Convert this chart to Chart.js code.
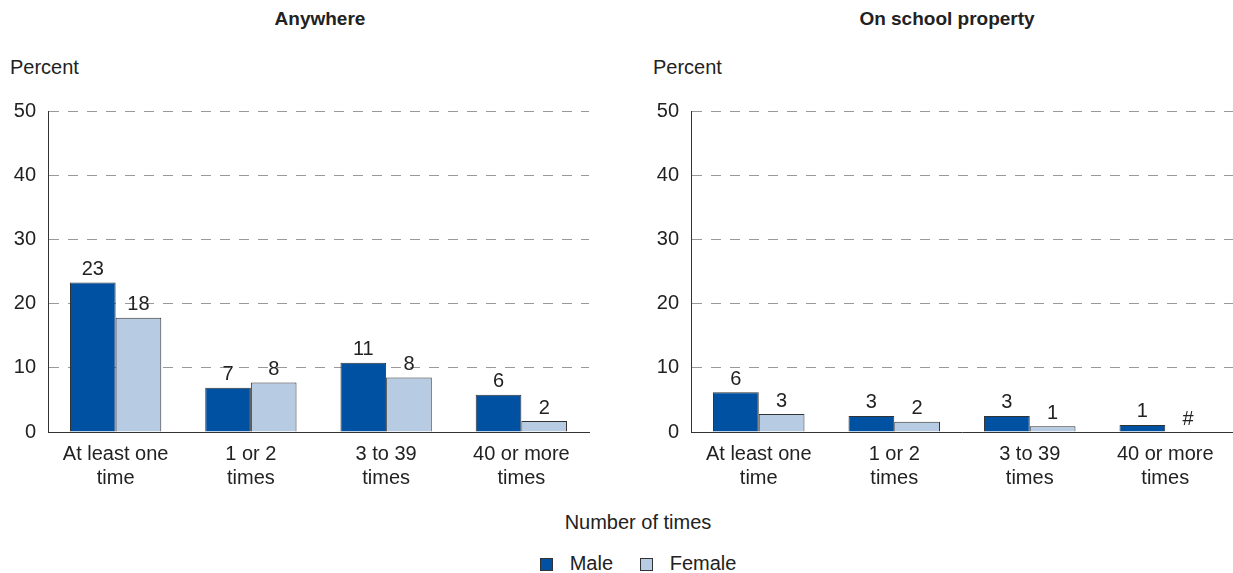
<!DOCTYPE html>
<html>
<head>
<meta charset="utf-8">
<script src="https://cdn.jsdelivr.net/npm/chart.js@4.4.1/dist/chart.umd.min.js"></script>
<style>
  body { margin: 0; background: #fff; font-family: "Liberation Sans", Arial, Helvetica, sans-serif; color: #222; }
  #page { position: relative; width: 1233px; height: 573px; overflow: hidden; }
  .txt { position: absolute; white-space: nowrap; font-size: 20px; line-height: 24px; }
  .title { font-weight: bold; font-size: 19px; transform: translateX(-50%); }
  .box { display: inline-block; width: 11px; height: 11px; border: 1px solid #333; vertical-align: -1px; }
  #leftWrap { position: absolute; left: 0; top: 0; width: 616px; height: 500px; }
  #rightWrap { position: absolute; left: 616px; top: 0; width: 617px; height: 500px; }
</style>
</head>
<body>
<div id="page">
  <div class="txt title" style="left:320px; top:7px;">Anywhere</div>
  <div class="txt title" style="left:947px; top:7px;">On school property</div>
  <div class="txt" style="left:10px; top:55px;">Percent</div>
  <div class="txt" style="left:653px; top:55px;">Percent</div>
  <div id="leftWrap"><canvas id="leftChart" width="616" height="500"></canvas></div>
  <div id="rightWrap"><canvas id="rightChart" width="617" height="500"></canvas></div>
  <div class="txt" style="left:638px; top:510px; transform:translateX(-50%);">Number of times</div>
  <div class="txt" style="left:540px; top:551px;"><span class="box" style="background:#0051a2"></span>&nbsp;&nbsp;&nbsp;Male</div>
  <div class="txt" style="left:640px; top:551px;"><span class="box" style="background:#b7cbe3"></span>&nbsp;&nbsp;&nbsp;Female</div>
</div>
<script>
// categories
const categories = [["At least one", "time"], ["1 or 2", "times"], ["3 to 39", "times"], ["40 or more", "times"]];
const yTicks = [0, 10, 20, 30, 40, 50];

// Anywhere
const anyMale = [23.3, 6.9, 10.8, 5.8];
const anyFemale = [17.8, 7.7, 8.5, 1.7];
const anyMaleLabels = ["23", "7", "11", "6"];
const anyFemaleLabels = ["18", "8", "8", "2"];

// On school property
const schoolMale = [6.2, 2.5, 2.5, 1.1];
const schoolFemale = [2.8, 1.6, 0.9, 0];
const schoolMaleLabels = ["6", "3", "3", "1"];
const schoolFemaleLabels = ["3", "2", "1", "#"];

const maleColor = "#0051a2";
const femaleColor = "#b7cbe3";
const fontFamily = '"Liberation Sans", Arial, Helvetica, sans-serif';

Chart.defaults.font.family = fontFamily;
Chart.defaults.color = "#222";

const valueLabels = {
	id: "valueLabels",
	afterDatasetsDraw(chart) {
		const ctx = chart.ctx;
		const yScale = chart.scales.y;
		ctx.save();
		ctx.font = "20px " + fontFamily;
		ctx.fillStyle = "#222";
		ctx.textAlign = "center";
		ctx.textBaseline = "bottom";
		chart.data.datasets.forEach((ds, di) => {
			const meta = chart.getDatasetMeta(di);
			meta.data.forEach((bar, i) => {
				const y = yScale.getPixelForValue(ds.data[i]);
				ctx.fillText(ds.valueLabels[i], bar.x, y - 3);
			});
		});
		ctx.restore();
	}
};

function makeChart(canvasId, male, female, maleLabels, femaleLabels, padLeft, padRight) {
	return new Chart(document.getElementById(canvasId), {
		type: "bar",
		data: {
			labels: categories,
			datasets: [
				{ label: "Male", data: male, valueLabels: maleLabels, backgroundColor: maleColor, borderColor: "#333", borderWidth: 1, borderSkipped: "bottom" },
				{ label: "Female", data: female, valueLabels: femaleLabels, backgroundColor: femaleColor, borderColor: "#333", borderWidth: 1, borderSkipped: "bottom" }
			]
		},
		options: {
			responsive: false,
			animation: false,
			events: [],
			layout: { padding: { left: padLeft, right: padRight, top: 111, bottom: 8 } },
			datasets: { bar: { categoryPercentage: 0.675, barPercentage: 1.0 } },
			plugins: { legend: { display: false }, tooltip: { enabled: false } },
			scales: {
				x: {
					grid: { display: false },
					border: { display: true, color: "#333", width: 1 },
					ticks: { font: { size: 20, lineHeight: 1.2 }, color: "#222", padding: 2, maxRotation: 0, autoSkip: false },
					afterFit(scale) { scale.height = 60; }
				},
				y: {
					min: 0,
					max: 50,
					afterBuildTicks(scale) { scale.ticks = yTicks.map(v => ({ value: v })); },
					grid: {
						drawTicks: false,
						color: ctx => ctx.tick && ctx.tick.value === 0 ? "rgba(0,0,0,0)" : "#999",
						lineWidth: 1
					},
					border: { display: true, color: "#333", width: 1, dash: [10, 9] },
					ticks: { font: { size: 20 }, color: "#222", padding: 12 },
					afterFit(scale) { scale.width = 48; }
				}
			}
		},
		plugins: [valueLabels]
	});
}

makeChart("leftChart", anyMale, anyFemale, anyMaleLabels, anyFemaleLabels, 0, 27);
makeChart("rightChart", schoolMale, schoolFemale, schoolMaleLabels, schoolFemaleLabels, 27, 0);
</script>
</body>
</html>
